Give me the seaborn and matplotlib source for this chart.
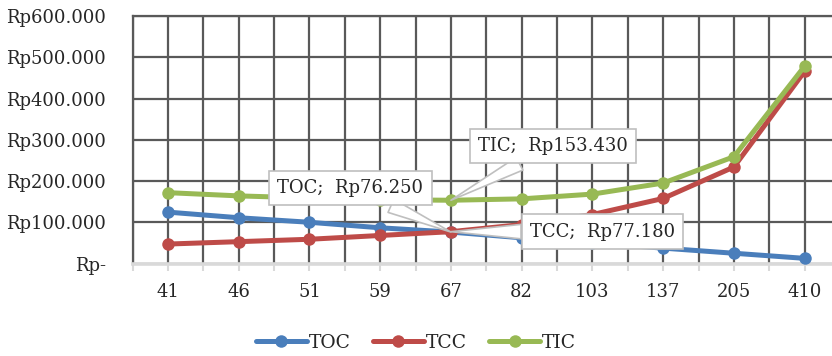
import pandas as pd
import matplotlib.pyplot as plt
import matplotlib.ticker as mticker
import seaborn as sns

# Data
quantities = ['41', '46', '51', '59', '67', '82', '103', '137', '205', '410']
toc = [124600, 111000, 100000, 86600, 76250, 62300, 49600, 37300, 24900, 12500]
tcc = [47200, 53000, 58800, 68000, 77180, 94500, 118700, 157800, 234000, 466000]
tic = [171800, 164000, 158800, 154600, 153430, 156800, 168300, 195100, 258900, 478500]
series = ['TOC', 'TCC', 'TIC']
colors = ['#4A7EBB', '#BE4B48', '#98B954']

df = pd.DataFrame({'Q': quantities * 3,
                   'cost': toc + tcc + tic,
                   'series': [s for s in series for _ in quantities]})

sns.set_style('white')
plt.rcParams['font.family'] = ['DejaVu Serif']
fs = 13

fig = plt.figure(figsize=(8.32, 3.56), dpi=100)
ax = fig.add_axes([0.1594, 0.2598, 0.8502, 0.695])

sns.lineplot(data=df, x='Q', y='cost', hue='series', hue_order=series,
             palette=colors, marker='o', markersize=9, markeredgewidth=0,
             linewidth=3.6, sort=False, ax=ax, zorder=3)

# Axes and grid
ax.set_xlim(-0.5, len(quantities) - 0.5)
ax.set_ylim(0, 600000)
ax.yaxis.set_major_locator(mticker.MultipleLocator(100000))
ax.yaxis.set_major_formatter(mticker.FuncFormatter(
    lambda v, p: 'Rp-' if v == 0 else 'Rp' + f'{v:,.0f}'.replace(',', '.')))
ax.set_xticks(range(len(quantities)))
ax.set_xticklabels(quantities)
ax.xaxis.set_minor_locator(mticker.FixedLocator([i + 0.5 for i in range(-1, len(quantities))]))
ax.set_axisbelow(True)
ax.grid(True, which='both', axis='x', color='#595959', linewidth=1.6)
ax.grid(True, which='major', axis='y', color='#595959', linewidth=1.6)
ax.tick_params(axis='x', which='both', length=5, color='#D9D9D9', width=1.5,
               labelsize=fs, pad=9, bottom=True)
ax.tick_params(axis='y', length=0, labelsize=fs, pad=19)
for s in ['top', 'left', 'right']:
    ax.spines[s].set_color('#595959')
    ax.spines[s].set_linewidth(1.6)
ax.spines['bottom'].set_color('#D9D9D9')
ax.spines['bottom'].set_linewidth(2.6)
ax.set_xlabel('')
ax.set_ylabel('')

# Callouts at the optimal order quantity
i_opt = quantities.index('67')
box = dict(boxstyle='square,pad=0.45', fc='white', ec='#BFBFBF', lw=1.2)
arrow = dict(arrowstyle='wedge,tail_width=0.8,shrink_factor=0.5', fc='white',
             ec='#BFBFBF', lw=1.2, shrinkA=0, shrinkB=0)
ax.annotate('TOC;  Rp76.250', xy=(i_opt, toc[i_opt]), xytext=(2.58, 183000),
            ha='center', va='center', fontsize=fs, bbox=box, arrowprops=arrow, zorder=5)
ax.annotate('TIC;  Rp153.430', xy=(i_opt, tic[i_opt]), xytext=(5.44, 285000),
            ha='center', va='center', fontsize=fs, bbox=box, arrowprops=arrow, zorder=5)
ax.annotate('TCC;  Rp77.180', xy=(i_opt, tcc[i_opt]), xytext=(6.14, 77600),
            ha='center', va='center', fontsize=fs, bbox=box, arrowprops=arrow, zorder=5)

# Legend at the bottom
ax.get_legend().remove()
handles = ax.lines[:3]
fig.legend(handles, series, loc='center', bbox_to_anchor=(0.5, (356 - 343) / 356),
           ncol=3, frameon=False, fontsize=13.5, handlelength=2.7,
           handletextpad=0.1, columnspacing=1.2)

plt.savefig('out.png', dpi=100)
